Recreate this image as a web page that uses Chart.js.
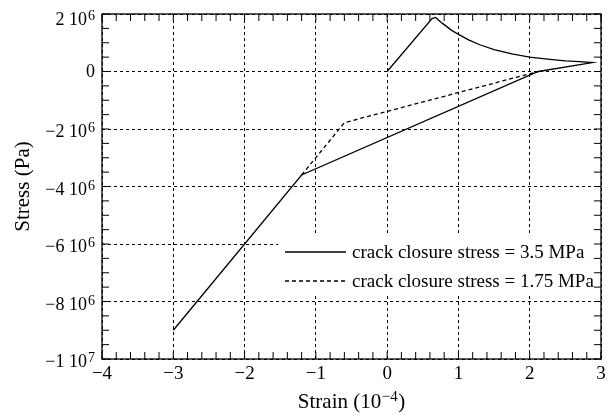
<!DOCTYPE html>
<html><head><meta charset="utf-8">
<script src="https://cdn.jsdelivr.net/npm/chart.js@4/dist/chart.umd.min.js"></script>
<style>html,body{margin:0;padding:0;background:#fff}</style>
</head><body>
<canvas id="c" width="613" height="417"></canvas>
<script>
// Solid series: crack closure stress = 3.5 MPa (path order)
const strainSolid = [0, 0.63, 0.68, 0.75, 0.8, 0.9, 1.0, 1.15, 1.3, 1.5, 1.75, 2.0, 2.25, 2.5, 2.7, 2.88, 2.12, -1.2, -3.0];
const stressSolid = [0, 1.84e6, 1.88e6, 1.72e6, 1.63e6, 1.44e6, 1.29e6, 1.09e6, 0.93e6, 0.76e6, 0.61e6, 0.50e6, 0.43e6, 0.37e6, 0.34e6, 0.31e6, 0, -3.6e6, -9.0e6];
// Dashed series: crack closure stress = 1.75 MPa
const strainDashed = [-1.2, -0.6, 2.12];
const stressDashed = [-3.6e6, -1.78e6, 0];

const legendLabels = ['crack closure stress = 3.5 MPa', 'crack closure stress = 1.75 MPa'];
const xTicks = [-4, -3, -2, -1, 0, 1, 2, 3];
const xTickLabels = ['\u22124', '\u22123', '\u22122', '\u22121', '0', '1', '2', '3'];
const yTicks = [2e6, 0, -2e6, -4e6, -6e6, -8e6, -1e7];
const yTickBase = ['2 10', '0', '\u22122 10', '\u22124 10', '\u22126 10', '\u22128 10', '\u22121 10'];
const yTickExp = ['6', '', '6', '6', '6', '6', '7'];
const xTitleParts = ['Strain (10', '\u22124', ')'];
const yTitle = 'Stress (Pa)';

const FONT = 'Liberation Serif';
const toPts = (xs, ys) => xs.map((x, i) => ({x: x, y: ys[i]}));
const labelFor = (ticks, labels, v) => {
  const i = ticks.findIndex(t => Math.abs(t - v) < 1e-6 * Math.max(1, Math.abs(t)));
  return i >= 0 ? labels[i] : '';
};
const f = (s) => s + 'px "' + FONT + '"';

const framePlugin = {
  id: 'frame',
  beforeDatasetsDraw(chart) {
    const {ctx, chartArea: a} = chart;
    ctx.save();
    ctx.fillStyle = '#fff';
    ctx.fillRect(a.right - 323, a.top + 222, 320, 58);
    ctx.restore();
  },
  afterDraw(chart) {
    const {ctx, chartArea: a, scales} = chart;
    const xs = scales.x, ys = scales.y;
    ctx.save();
    ctx.strokeStyle = '#000';
    ctx.lineWidth = 1.3;
    ctx.setLineDash([]);
    ctx.strokeRect(a.left, a.top, a.right - a.left, a.bottom - a.top);
    const L = 7;
    ctx.lineWidth = 1;
    ctx.beginPath();
    for (let k = 0; k <= 35; k++) {
      const p = xs.getPixelForValue(-4 + k * 0.2);
      ctx.moveTo(p, a.bottom); ctx.lineTo(p, a.bottom - L);
      ctx.moveTo(p, a.top); ctx.lineTo(p, a.top + L);
    }
    for (let k = 0; k <= 24; k++) {
      const p = ys.getPixelForValue(-1e7 + k * 5e5);
      ctx.moveTo(a.left, p); ctx.lineTo(a.left + L, p);
      ctx.moveTo(a.right, p); ctx.lineTo(a.right - L, p);
    }
    ctx.stroke();

    // y tick labels with superscript exponents
    ctx.fillStyle = '#000';
    ctx.textBaseline = 'alphabetic';
    ctx.textAlign = 'left';
    const R = a.left - 7;
    yTicks.forEach((v, i) => {
      const p = ys.getPixelForValue(v);
      ctx.font = f(18);
      const wb = ctx.measureText(yTickBase[i]).width;
      if (yTickExp[i]) {
        ctx.font = f(14);
        const we = ctx.measureText(yTickExp[i]).width;
        const shift = (i === 0) ? 3 : 0;
        const base = p + 8 + shift;
        ctx.font = f(18);
        ctx.fillText(yTickBase[i], R - we - 1 - wb, base);
        ctx.font = f(14);
        ctx.fillText(yTickExp[i], R - we, base - 5);
      } else {
        ctx.fillText(yTickBase[i], R - wb, p + 5);
      }
    });

    // x axis title with superscript
    ctx.font = f(21);
    const w0 = ctx.measureText(xTitleParts[0]).width;
    const w2 = ctx.measureText(xTitleParts[2]).width;
    ctx.font = f(15);
    const w1 = ctx.measureText(xTitleParts[1]).width;
    const total = w0 + w1 + w2 + 1;
    let tx0 = (a.left + a.right) / 2 - total / 2;
    const tb = 408;
    ctx.font = f(21);
    ctx.fillText(xTitleParts[0], tx0, tb);
    ctx.font = f(15);
    ctx.fillText(xTitleParts[1], tx0 + w0 + 0.5, tb - 7);
    ctx.font = f(21);
    ctx.fillText(xTitleParts[2], tx0 + w0 + w1 + 1, tb);

    // legend
    const ds = chart.data.datasets;
    const x0 = a.right - 316, x1 = a.right - 255, lx = a.right - 249;
    const rows = [a.top + 238, a.top + 267];
    ctx.font = f(19);
    ctx.textBaseline = 'middle';
    ds.forEach((d, i) => {
      ctx.beginPath();
      ctx.lineWidth = d.borderWidth;
      ctx.setLineDash(d.borderDash || []);
      ctx.moveTo(x0, rows[i]); ctx.lineTo(x1, rows[i]);
      ctx.stroke();
      ctx.setLineDash([]);
      ctx.fillText(d.label, lx, rows[i] + 1);
    });
    ctx.restore();
  }
};

new Chart(document.getElementById('c'), {
  type: 'scatter',
  data: {
    datasets: [
      {label: legendLabels[0], data: toPts(strainSolid, stressSolid), showLine: true,
       borderColor: '#000', borderWidth: 1.3, pointRadius: 0, fill: false, tension: 0},
      {label: legendLabels[1], data: toPts(strainDashed, stressDashed), showLine: true,
       borderColor: '#000', borderWidth: 1.3, borderDash: [4, 3], pointRadius: 0, fill: false, tension: 0}
    ]
  },
  options: {
    responsive: false,
    animation: false,
    layout: {padding: {top: 14, right: 12, bottom: 0, left: 0}},
    plugins: {legend: {display: false}, tooltip: {enabled: false}},
    scales: {
      x: {
        type: 'linear', min: -4, max: 3,
        afterBuildTicks: s => { s.ticks = xTicks.map(v => ({value: v})); },
        ticks: {callback: v => labelFor(xTicks, xTickLabels, v), color: '#000',
                font: {family: FONT, size: 19}, padding: 4, maxRotation: 0, autoSkip: false},
        grid: {color: '#000', lineWidth: 1, drawTicks: false},
        border: {display: false, dash: [3, 3]},
        title: {display: false},
        afterFit: s => { s.height = 58; }
      },
      y: {
        type: 'linear', min: -1e7, max: 2e6,
        afterBuildTicks: s => { s.ticks = yTicks.map(v => ({value: v})); },
        ticks: {display: false},
        grid: {color: '#000', lineWidth: 1, drawTicks: false},
        border: {display: false, dash: [3, 3]},
        title: {display: true, text: yTitle, color: '#000', font: {family: FONT, size: 21},
                padding: {top: 11, bottom: 0}},
        afterFit: s => { s.width = 102; }
      }
    }
  },
  plugins: [framePlugin]
});
</script>
</body></html>
